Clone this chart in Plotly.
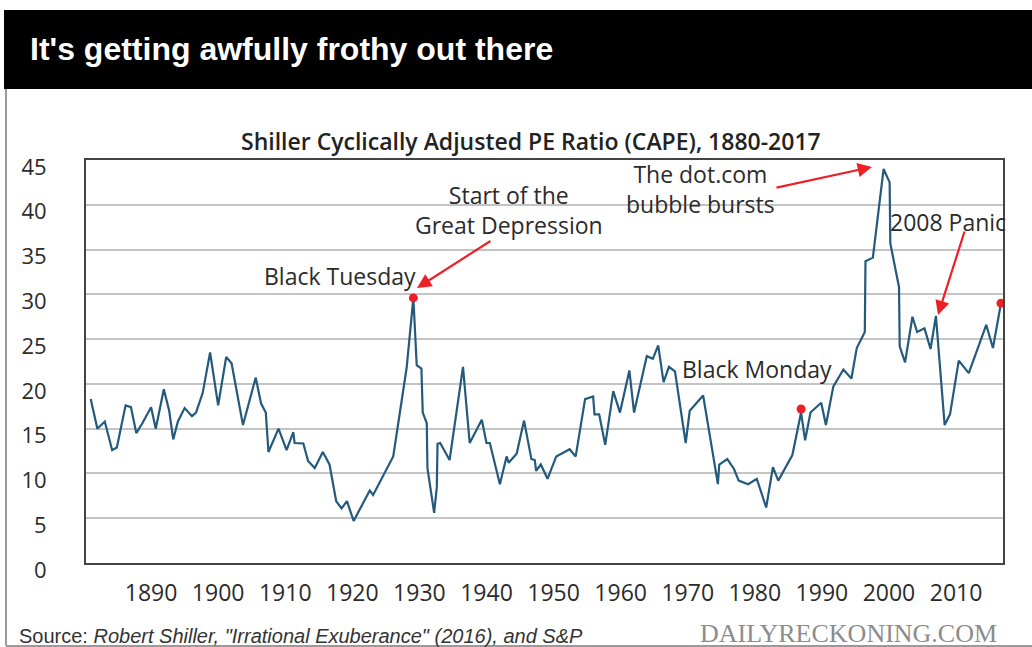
import plotly.graph_objects as go

# ---- data ----
years = [1881.0, 1882.0, 1883.1, 1884.2, 1884.9, 1886.2, 1887.0, 1887.8, 1888.7, 1890.0,
         1890.7, 1891.9, 1892.7, 1893.3, 1894.0, 1895.0, 1896.1, 1896.7, 1897.7, 1898.3,
         1898.8, 1900.0, 1901.2, 1902.0, 1903.7, 1905.6, 1906.4, 1907.1, 1907.5, 1909.0,
         1910.2, 1911.2, 1911.4, 1912.7, 1913.4, 1914.4, 1915.6, 1916.6, 1917.6, 1918.4,
         1919.2, 1920.2, 1922.6, 1923.1, 1924.6, 1926.1, 1928.1, 1929.1, 1929.6, 1930.3,
         1930.5, 1931.1, 1931.2, 1932.2, 1932.6, 1932.7, 1933.1, 1934.5, 1936.5, 1937.5,
         1939.3, 1940.0, 1940.5, 1942.0, 1943.0, 1943.3, 1944.5, 1945.6, 1946.7, 1947.2,
         1947.4, 1948.1, 1949.1, 1950.4, 1952.4, 1953.3, 1954.7, 1955.9, 1956.1, 1956.8,
         1957.7, 1958.9, 1959.9, 1961.3, 1962.0, 1963.9, 1964.8, 1965.6, 1966.4, 1967.2,
         1968.1, 1969.7, 1970.3, 1972.3, 1974.5, 1974.7, 1975.9, 1976.9, 1977.6, 1979.0,
         1980.3, 1981.7, 1982.7, 1983.5, 1985.6, 1986.9, 1987.5, 1988.3, 1989.9, 1990.6,
         1991.7, 1993.2, 1994.4, 1995.2, 1996.4, 1996.5, 1997.6, 1999.2, 2000.1, 2000.2,
         2001.5, 2001.6, 2002.4, 2003.5, 2004.2, 2005.3, 2006.2, 2007.0, 2008.3, 2009.1,
         2010.4, 2011.9, 2014.5, 2015.5, 2016.7]
cape = [18.3, 15.0, 15.8, 12.6, 12.9, 17.6, 17.4, 14.5, 15.6, 17.4,
        15.0, 19.4, 17.0, 13.8, 15.8, 17.3, 16.4, 16.8, 19.0, 21.4,
        23.5, 17.6, 23.0, 22.3, 15.4, 20.7, 17.8, 16.8, 12.4, 15.0,
        12.6, 14.6, 13.4, 13.35, 11.4, 10.6, 12.4, 11.0, 6.9, 6.1,
        6.9, 4.7, 8.1, 7.6, 9.75, 11.9, 21.8, 29.6, 22.1, 21.7,
        16.8, 15.6, 10.6, 5.6, 8.5, 13.3, 13.4, 11.5, 21.9, 13.4,
        16.0, 13.4, 13.4, 8.8, 11.9, 11.2, 12.2, 15.9, 11.6, 11.5,
        10.3, 11.0, 9.4, 11.9, 12.7, 11.9, 18.3, 18.6, 16.6, 16.6,
        13.2, 19.2, 16.8, 21.5, 16.8, 23.1, 22.8, 24.3, 20.2, 21.9,
        21.4, 13.4, 17.0, 18.7, 8.8, 11.0, 11.6, 10.5, 9.2, 8.8,
        9.4, 6.2, 10.7, 9.2, 12.05, 16.8, 13.7, 16.8, 17.9, 15.4,
        19.7, 21.6, 20.6, 24.0, 25.8, 33.7, 34.1, 44.0, 42.5, 35.7,
        30.8, 24.2, 22.4, 27.5, 25.8, 26.2, 23.9, 27.6, 15.4, 16.6,
        22.6, 21.2, 26.6, 24.0, 29.0]

event_years = [1929.1, 1986.9, 2016.7]
event_cape = [29.6, 17.2, 29.0]

y_ticks = [0, 5, 10, 15, 20, 25, 30, 35, 40, 45]
x_ticks = [1890, 1900, 1910, 1920, 1930, 1940, 1950, 1960, 1970, 1980, 1990, 2000, 2010]
x_tick_labels = [str(v) for v in x_ticks]

title_text = "It's getting awfully frothy out there"
subtitle_text = "Shiller Cyclically Adjusted PE Ratio (CAPE), 1880-2017"
source_text = "Source: <i>Robert Shiller, \"Irrational Exuberance\" (2016), and S&P</i>"
brand_text = "DAILYRECKONING.COM"

# ---- layout geometry ----
W, H = 1032, 647
L, R, T, B = 86, 29, 160, 84
PW, PH = W - L - R, H - T - B


def px(x):
    return (x - L) / PW


def py(y):
    return (H - B - y) / PH


LINE = "#245a7c"
RED = "#ec2127"
TXT = "#2b2b2b"
FONT = "Open Sans, Noto Sans, sans-serif"

fig = go.Figure()
fig.add_trace(go.Scatter(x=years, y=cape, mode="lines",
                         line=dict(color=LINE, width=2.2), hoverinfo="skip"))
fig.add_trace(go.Scatter(x=event_years, y=event_cape, mode="markers",
                         marker=dict(color=RED, size=9), hoverinfo="skip"))

shapes = [
    dict(type="rect", xref="paper", yref="paper", x0=px(4), x1=px(1040), y0=py(10), y1=py(89),
         fillcolor="black", line=dict(width=0), layer="above"),
    dict(type="line", xref="paper", yref="paper", x0=px(6), x1=px(6), y0=py(89), y1=py(646),
         line=dict(color="#9a9a9a", width=2)),
    dict(type="line", xref="paper", yref="paper", x0=px(6), x1=px(1040), y0=py(646), y1=py(646),
         line=dict(color="#9a9a9a", width=2)),
]

ann = []
ann.append(dict(text=title_text, xref="paper", yref="paper", x=px(28), y=py(49),
                xanchor="left", yanchor="middle", showarrow=False,
                font=dict(family="Liberation Sans, Arial, sans-serif",
                          size=32, color="white", weight="bold")))
ann.append(dict(text=subtitle_text, xref="paper", yref="paper", x=px(531), y=py(141),
                xanchor="center", yanchor="middle", showarrow=False,
                font=dict(family=FONT, size=23, color="#222", weight=600)))
ann.append(dict(text="Start of the<br>Great Depression", xref="paper", yref="paper",
                x=px(509), y=py(210), xanchor="center", yanchor="middle", showarrow=False,
                align="center", font=dict(family=FONT, size=23, color=TXT)))
ann.append(dict(text="Black Tuesday", xref="paper", yref="paper", x=px(262), y=py(276),
                xanchor="left", yanchor="middle", showarrow=False,
                font=dict(family=FONT, size=23, color=TXT)))
ann.append(dict(text="The dot.com<br>bubble bursts", xref="paper", yref="paper",
                x=px(700), y=py(189), xanchor="center", yanchor="middle", showarrow=False,
                align="center", font=dict(family=FONT, size=23, color=TXT)))
ann.append(dict(text="2008 Panic", xref="paper", yref="paper", x=px(888), y=py(222),
                xanchor="left", yanchor="middle", showarrow=False,
                font=dict(family=FONT, size=23, color=TXT)))
ann.append(dict(text="Black Monday", xref="paper", yref="paper", x=px(680), y=py(369),
                xanchor="left", yanchor="middle", showarrow=False,
                font=dict(family=FONT, size=23, color=TXT)))
# arrows (head position, tail offset in pixels)
for hx, hy, tx, ty in [(417, 288, 492, 240), (872, 167, 775, 188), (938, 315, 965, 230)]:
    ann.append(dict(text="", xref="paper", yref="paper", x=px(hx), y=py(hy),
                    axref="pixel", ayref="pixel", ax=tx - hx, ay=ty - hy,
                    showarrow=True, arrowhead=2, arrowsize=1.3, arrowwidth=2.2,
                    arrowcolor=RED, standoff=0))
ann.append(dict(text=source_text, xref="paper", yref="paper", x=px(17), y=py(636),
                xanchor="left", yanchor="middle", showarrow=False,
                font=dict(family="Liberation Sans, Arial, sans-serif", size=20, color="#333")))
ann.append(dict(text=brand_text, xref="paper", yref="paper", x=px(698), y=py(633),
                xanchor="left", yanchor="middle", showarrow=False,
                font=dict(family="Liberation Serif, DejaVu Serif, serif", size=26, color="#8c8c8c")))

fig.update_layout(
    width=W, height=H,
    margin=dict(l=L, r=R, t=T, b=B),
    paper_bgcolor="white", plot_bgcolor="white",
    showlegend=False,
    shapes=shapes, annotations=ann,
    xaxis=dict(range=[1880.3, 2017.0], tickvals=x_ticks, ticktext=x_tick_labels,
               showgrid=False, zeroline=False, showline=True, mirror=True,
               linecolor="#444", linewidth=2, ticks="", ticklabelstandoff=8,
               tickfont=dict(family=FONT, size=23, color=TXT)),
    yaxis=dict(range=[0, 45], tickvals=y_ticks, showgrid=True, gridcolor="#c4c4c4",
               gridwidth=1.5, zeroline=False, showline=True, mirror=True,
               linecolor="#444", linewidth=2, ticks="", ticklabelstandoff=33,
               ticklabelshift=7,
               tickfont=dict(family=FONT, size=22, color=TXT)),
)

fig.write_html("out.html", config={"displayModeBar": False},
               post_script="document.body.style.margin='0';document.body.style.overflow='hidden';")
